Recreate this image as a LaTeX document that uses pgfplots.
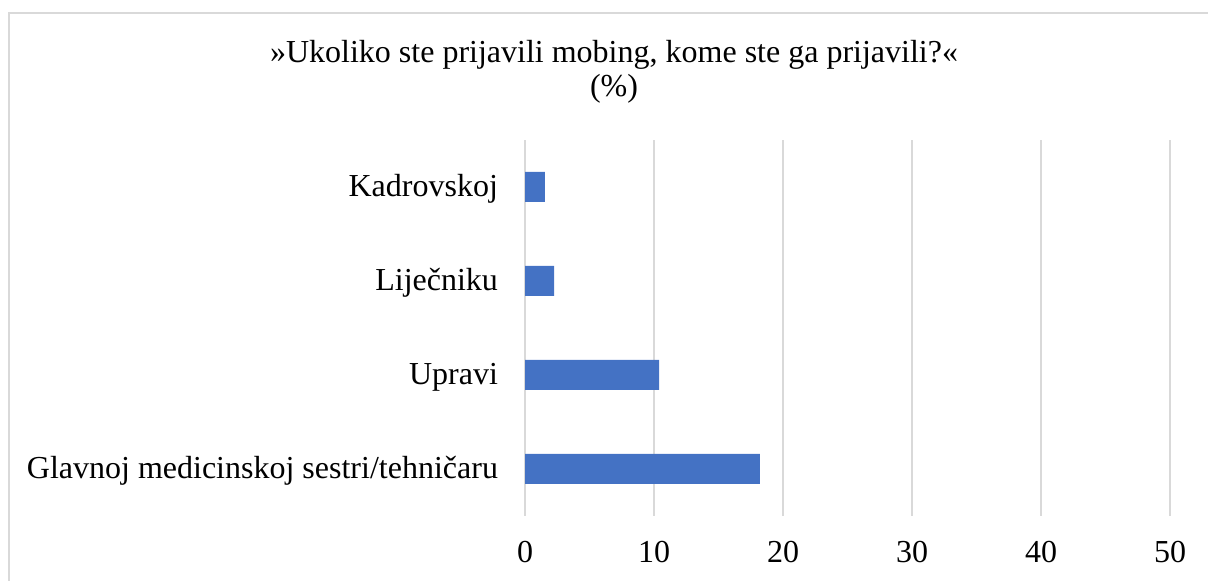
\documentclass[border=0pt]{standalone}
\usepackage{fontspec}
\setmainfont{Liberation Serif}
\usepackage{pgfplots}
\pgfplotsset{compat=1.18}
\definecolor{barblue}{HTML}{4472C4}
\definecolor{gridgray}{HTML}{D9D9D9}

\begin{document}
\begin{tikzpicture}
\useasboundingbox (0,0) rectangle (604pt,290.5pt);
% chart frame (cropped at right and bottom)
\draw[gridgray, line width=1pt] (4.5pt,0) -- (4.5pt,284pt) -- (604pt,284pt);
\node[anchor=base, font=\fontsize{16}{19}\selectfont] at (307pt,259pt)
  {»Ukoliko ste prijavili mobing, kome ste ga prijavili?«};
\node[anchor=base, font=\fontsize{16}{19}\selectfont] at (307pt,242pt) {(\%)};
\begin{axis}[
    at={(262.5pt,32.5pt)}, anchor=south west,
    scale only axis, width=322.5pt, height=188pt,
    xbar, bar width=15pt,
    xmin=0, xmax=50, ymin=-0.5, ymax=3.5,
    xtick={0,10,20,30,40,50},
    ytick={0,1,2,3},
    yticklabels={Glavnoj medicinskoj sestri/tehničaru, Upravi, Liječniku, Kadrovskoj},
    axis line style={draw=none},
    major tick length=0pt,
    xmajorgrids, major grid style={gridgray, line width=0.8pt},
    tick label style={font=\fontsize{16}{19}\selectfont},
    /pgf/number format/assume math mode=true,
    xticklabel style={anchor=base, yshift=-23.5pt},
    yticklabel style={anchor=base east, yshift=-5pt, xshift=-10pt},
]
\addplot[fill=barblue, draw=none] coordinates {(18.2,0) (10.4,1) (2.25,2) (1.55,3)};
\end{axis}
\end{tikzpicture}
\end{document}
